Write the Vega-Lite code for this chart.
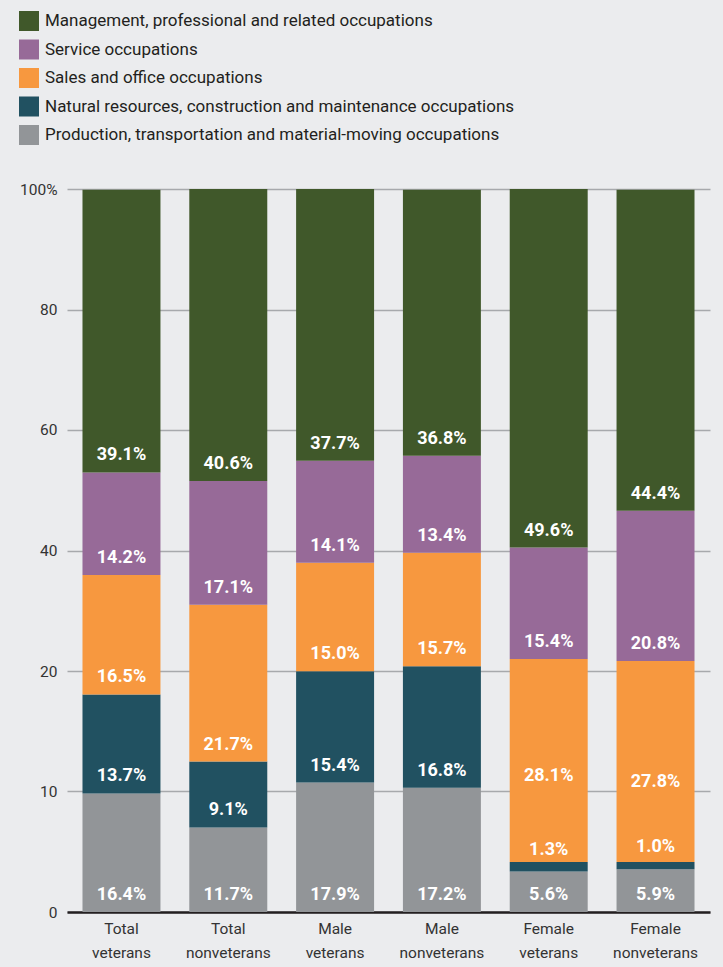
{
  "$schema": "https://vega.github.io/schema/vega-lite/v6.json",
  "width": 643,
  "height": 723,
  "autosize": {"type": "none"},
  "padding": {"left": 67, "top": 189, "right": 13, "bottom": 55},
  "background": "#ebecee",
  "config": {
    "view": {"stroke": null},
    "font": "Roboto, Liberation Sans, sans-serif"
  },
  "data": {
    "values": [
      {"group": "Total veterans", "category": "Production, transportation and material-moving occupations", "ord": 1, "value": 16.4},
      {"group": "Total veterans", "category": "Natural resources, construction and maintenance occupations", "ord": 2, "value": 13.7},
      {"group": "Total veterans", "category": "Sales and office occupations", "ord": 3, "value": 16.5},
      {"group": "Total veterans", "category": "Service occupations", "ord": 4, "value": 14.2},
      {"group": "Total veterans", "category": "Management, professional and related occupations", "ord": 5, "value": 39.1},
      {"group": "Total nonveterans", "category": "Production, transportation and material-moving occupations", "ord": 1, "value": 11.7},
      {"group": "Total nonveterans", "category": "Natural resources, construction and maintenance occupations", "ord": 2, "value": 9.1},
      {"group": "Total nonveterans", "category": "Sales and office occupations", "ord": 3, "value": 21.7},
      {"group": "Total nonveterans", "category": "Service occupations", "ord": 4, "value": 17.1},
      {"group": "Total nonveterans", "category": "Management, professional and related occupations", "ord": 5, "value": 40.6},
      {"group": "Male veterans", "category": "Production, transportation and material-moving occupations", "ord": 1, "value": 17.9},
      {"group": "Male veterans", "category": "Natural resources, construction and maintenance occupations", "ord": 2, "value": 15.4},
      {"group": "Male veterans", "category": "Sales and office occupations", "ord": 3, "value": 15.0},
      {"group": "Male veterans", "category": "Service occupations", "ord": 4, "value": 14.1},
      {"group": "Male veterans", "category": "Management, professional and related occupations", "ord": 5, "value": 37.7},
      {"group": "Male nonveterans", "category": "Production, transportation and material-moving occupations", "ord": 1, "value": 17.2},
      {"group": "Male nonveterans", "category": "Natural resources, construction and maintenance occupations", "ord": 2, "value": 16.8},
      {"group": "Male nonveterans", "category": "Sales and office occupations", "ord": 3, "value": 15.7},
      {"group": "Male nonveterans", "category": "Service occupations", "ord": 4, "value": 13.4},
      {"group": "Male nonveterans", "category": "Management, professional and related occupations", "ord": 5, "value": 36.8},
      {"group": "Female veterans", "category": "Production, transportation and material-moving occupations", "ord": 1, "value": 5.6},
      {"group": "Female veterans", "category": "Natural resources, construction and maintenance occupations", "ord": 2, "value": 1.3},
      {"group": "Female veterans", "category": "Sales and office occupations", "ord": 3, "value": 28.1},
      {"group": "Female veterans", "category": "Service occupations", "ord": 4, "value": 15.4},
      {"group": "Female veterans", "category": "Management, professional and related occupations", "ord": 5, "value": 49.6},
      {"group": "Female nonveterans", "category": "Production, transportation and material-moving occupations", "ord": 1, "value": 5.9},
      {"group": "Female nonveterans", "category": "Natural resources, construction and maintenance occupations", "ord": 2, "value": 1.0},
      {"group": "Female nonveterans", "category": "Sales and office occupations", "ord": 3, "value": 27.8},
      {"group": "Female nonveterans", "category": "Service occupations", "ord": 4, "value": 20.8},
      {"group": "Female nonveterans", "category": "Management, professional and related occupations", "ord": 5, "value": 44.4}
    ]
  },
  "transform": [
    {"stack": "value", "groupby": ["group"], "sort": [{"field": "ord"}], "as": ["v0", "v1"]}
  ],
  "encoding": {
    "x": {
      "field": "group",
      "type": "nominal",
      "sort": null,
      "scale": {"paddingInner": 0.27, "paddingOuter": 0.145},
      "axis": {
        "title": null,
        "labelAngle": 0,
        "labelExpr": "split(datum.label, ' ')",
        "labelFontSize": 15.5,
        "labelLineHeight": 24,
        "labelColor": "#333333",
        "labelPadding": 16,
        "labelBaseline": "middle",
        "ticks": false,
        "domainColor": "#231f20",
        "domainWidth": 2.5,
        "grid": false
      }
    }
  },
  "layer": [
    {
      "mark": {"type": "bar", "clip": true},
      "encoding": {
        "y": {
          "field": "v0",
          "type": "quantitative",
          "scale": {"domain": [0, 100], "nice": false},
          "axis": {
            "title": null,
            "values": [0, 16.6667, 33.3333, 50, 66.6667, 83.3333, 100],
            "labelExpr": "datum.value < 1 ? '0' : datum.value < 20 ? '10' : datum.value < 40 ? '20' : datum.value < 55 ? '40' : datum.value < 70 ? '60' : datum.value < 90 ? '80' : '100%'",
            "labelFontSize": 15.5,
            "labelColor": "#333333",
            "labelPadding": 10,
            "ticks": false,
            "domain": false,
            "grid": true,
            "gridColor": "#a7a9ac",
            "gridWidth": 1.5
          }
        },
        "y2": {"field": "v1"},
        "color": {
          "field": "category",
          "type": "nominal",
          "scale": {
            "domain": [
              "Management, professional and related occupations",
              "Service occupations",
              "Sales and office occupations",
              "Natural resources, construction and maintenance occupations",
              "Production, transportation and material-moving occupations"
            ],
            "range": ["#40582a", "#976a98", "#f7983f", "#215161", "#929598"]
          },
          "legend": {
            "title": null,
            "orient": "none",
            "legendX": -48,
            "legendY": -178,
            "symbolType": "square",
            "symbolSize": 400,
            "symbolStrokeWidth": 0,
            "labelFontSize": 17,
            "labelColor": "#231f20",
            "labelOffset": 6,
            "rowPadding": 8.5,
            "labelLimit": 600,
            "encode": {
              "symbols": {
                "update": {
                  "fill": {"signal": "datum.value === 'Production, transportation and material-moving occupations' ? '#bdbec1' : scale('color', datum.value)"},
                  "opacity": {"value": 1}
                }
              }
            }
          }
        }
      }
    },
    {
      "mark": {
        "type": "text",
        "color": "white",
        "fontWeight": "bold",
        "fontSize": 18,
        "baseline": "middle",
        "dy": {"expr": "datum.ord === 3 && datum.value > 28 ? -86 : datum.ord === 3 && datum.value > 27 ? -80 : datum.value < 2 ? -22 : -17"},
        "text": {"expr": "format(datum.value, '.1f') + '%'"}
      },
      "encoding": {
        "y": {"field": "v0", "type": "quantitative"}
      }
    }
  ]
}
